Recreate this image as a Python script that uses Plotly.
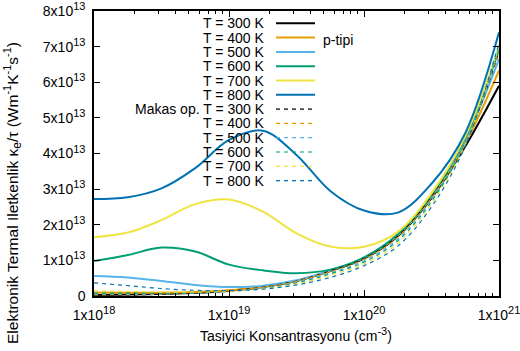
import plotly.graph_objects as go

# ---- data (values in units of 1e13 W m^-1 K^-1 s^-1) ----
conc = [1.00e18, 1.78e18, 3.16e18, 5.62e18, 1.00e19, 1.78e19, 3.16e19,
        5.62e19, 1.00e20, 1.78e20, 3.16e20, 5.62e20, 1.00e21]

temps = ["300", "400", "500", "600", "700", "800"]

s300 = [0.03, 0.04, 0.06, 0.09, 0.15, 0.25, 0.42, 0.70, 1.05, 1.68, 2.75, 4.20, 5.90]
s400 = [0.10, 0.09, 0.09, 0.11, 0.16, 0.26, 0.43, 0.71, 1.07, 1.70, 2.78, 4.28, 6.33]
s500 = [0.56, 0.52, 0.42, 0.31, 0.25, 0.29, 0.44, 0.72, 1.08, 1.72, 2.80, 4.38, 6.65]
s600 = [0.98, 1.15, 1.36, 1.25, 0.88, 0.72, 0.64, 0.74, 1.08, 1.73, 2.82, 4.45, 6.90]
s700 = [1.65, 1.78, 2.13, 2.58, 2.71, 2.37, 1.76, 1.39, 1.38, 1.80, 2.88, 4.48, 7.00]
s800 = [2.72, 2.77, 3.02, 3.59, 4.38, 4.64, 3.96, 2.95, 2.40, 2.34, 3.15, 4.57, 7.40]

d300 = [0.02, 0.03, 0.05, 0.09, 0.15, 0.25, 0.42, 0.70, 1.05, 1.68, 2.78, 4.30, 6.85]
d400 = [0.03, 0.04, 0.05, 0.08, 0.14, 0.24, 0.41, 0.68, 1.03, 1.65, 2.75, 4.30, 6.90]
d500 = [0.05, 0.05, 0.06, 0.08, 0.13, 0.22, 0.38, 0.65, 0.99, 1.60, 2.70, 4.30, 6.95]
d600 = [0.08, 0.08, 0.08, 0.09, 0.13, 0.21, 0.36, 0.62, 0.95, 1.55, 2.65, 4.28, 7.00]
d700 = [0.15, 0.13, 0.11, 0.11, 0.13, 0.20, 0.34, 0.58, 0.90, 1.48, 2.58, 4.25, 7.05]
d800 = [0.37, 0.29, 0.21, 0.16, 0.15, 0.19, 0.31, 0.52, 0.85, 1.40, 2.50, 4.20, 7.10]

colors = ["#000000", "#E69F00", "#56B4E9", "#009E73", "#F0E442", "#0072B2"]

SUP = "<sup><span style='font-size:11px'>%s</span></sup>"
x_tickvals = [1e18, 1e19, 1e20, 1e21]
x_ticktext = ["1x10" + SUP % e for e in ("18", "19", "20", "21")]
y_tickvals = [0.0, 1e13, 2e13, 3e13, 4e13, 5e13, 6e13, 7e13, 8e13]
y_ticktext = ["0"] + [("%dx10" % k) + SUP % "13" for k in range(1, 9)]

solid = [s300, s400, s500, s600, s700, s800]
dashed = [d300, d400, d500, d600, d700, d800]

FONT = "Liberation Sans, Arial, sans-serif"
W, H = 520, 351
L, R, T, B = 94, 499, 11, 296

fig = go.Figure()
for vals, c in zip(solid, colors):
    fig.add_trace(go.Scatter(x=conc, y=[v * 1e13 for v in vals], mode="lines",
                             line=dict(color=c, width=2, shape="spline", smoothing=1.0),
                             showlegend=False, hoverinfo="skip"))
for vals, c in zip(dashed, colors):
    fig.add_trace(go.Scatter(x=conc, y=[v * 1e13 for v in vals], mode="lines",
                             line=dict(color=c, width=1.2, dash="4px,4px", shape="spline", smoothing=1.0),
                             showlegend=False, hoverinfo="skip"))

def px(xp):
    return (xp - L) / (R - L)

def py(yp):
    return (B - yp) / (B - T)

annotations = []
shapes = []
row_y = [23.3, 37.6, 51.9, 66.2, 80.5, 94.8, 109.1, 123.4, 137.7, 152.0, 166.3, 180.6]
labels = ["T = %s K" % t for t in temps] + ["Makas op. T = 300 K"] + ["T = %s K" % t for t in temps[1:]]
for i, (lab, yy) in enumerate(zip(labels, row_y)):
    annotations.append(dict(x=px(267), y=py(yy), xref="paper", yref="paper", text=lab,
                            showarrow=False, xanchor="right", yanchor="middle",
                            font=dict(family=FONT, size=14, color="black")))
    c = colors[i % 6]
    if i < 6:
        ln = dict(color=c, width=2)
    else:
        ln = dict(color=c, width=1.2, dash="4px,4px")
    shapes.append(dict(type="line", xref="paper", yref="paper", x0=px(276), x1=px(315),
                       y0=py(yy), y1=py(yy), line=ln))

annotations.append(dict(x=px(321), y=py(40), xref="paper", yref="paper", text="p-tipi",
                        showarrow=False, xanchor="left", yanchor="middle",
                        font=dict(family=FONT, size=14, color="black")))
annotations.append(dict(x=px(12), y=py(193), xref="paper", yref="paper",
                        text="Elektronik Termal Iletkenlik κ" + "<sub><span style='font-size:12px'>e</span></sub>"
                             + "/τ (Wm" + SUP % "-1" + "K" + SUP % "-1" + "s" + SUP % "-1" + ")",
                        showarrow=False, textangle=-90, xanchor="center", yanchor="middle",
                        font=dict(family=FONT, size=15.5, color="black")))
annotations.append(dict(x=px(296), y=py(334), xref="paper", yref="paper",
                        text="Tasiyici Konsantrasyonu (cm" + SUP % "-3" + ")",
                        showarrow=False, xanchor="center", yanchor="middle",
                        font=dict(family=FONT, size=14, color="black")))

minor_x = [float(k) * 10.0 ** e for e in (18, 19, 20) for k in range(2, 10)]

fig.update_layout(
    width=W, height=H,
    margin=dict(l=L, r=W - R, t=T, b=H - B, pad=0, autoexpand=False),
    paper_bgcolor="white", plot_bgcolor="white",
    font=dict(family=FONT, size=14, color="black"),
    annotations=annotations, shapes=shapes,
    xaxis=dict(type="log", range=[18, 21], tickvals=x_tickvals, ticktext=x_ticktext,
               ticks="inside", ticklen=6, tickwidth=1, tickcolor="black",
               showline=True, linecolor="black", linewidth=1.5, mirror="ticks",
               showgrid=False, zeroline=False, automargin=False,
               ticklabelstandoff=5, ticklabeloverflow="allow",
               minor=dict(tickvals=minor_x, ticks="inside", ticklen=3, tickwidth=1,
                          tickcolor="black", showgrid=False),
               tickfont=dict(family=FONT, size=14)),
    yaxis=dict(range=[0, 8e13], tickvals=y_tickvals, ticktext=y_ticktext,
               ticks="inside", ticklen=6, tickwidth=1, tickcolor="black",
               showline=True, linecolor="black", linewidth=1.5, mirror="ticks",
               showgrid=False, zeroline=False, automargin=False,
               ticklabelstandoff=4, ticklabeloverflow="allow",
               tickfont=dict(family=FONT, size=14)),
)

fig.write_html("out.html", config={"displayModeBar": False},
               post_script="document.body.style.margin='0px';")
